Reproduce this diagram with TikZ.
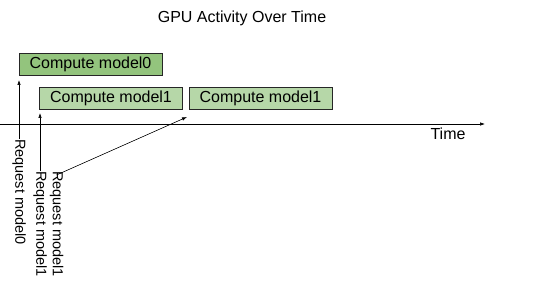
\documentclass[tikz,border=0pt]{standalone}
\usepackage{fontspec}
\setmainfont{Liberation Sans}
\usetikzlibrary{arrows.meta}
\definecolor{darkbox}{HTML}{93C47D}
\definecolor{lightbox}{HTML}{B6D7A8}
\tikzset{compute/.style={draw=black!85, line width=0.6pt, inner sep=0pt, minimum height=22pt, minimum width=143pt, font=\fontsize{16}{18}\selectfont}}
\tikzset{request/.style={rotate=-90, anchor=west, inner sep=0pt, font=\fontsize{14.5}{17}\selectfont}}
\tikzset{req/.style={-{Latex[length=5pt,width=3.5pt]}, line width=0.6pt}}
\begin{document}
\begin{tikzpicture}[x=1pt,y=-1pt]
\useasboundingbox (0,0) rectangle (553,283);

\node[font=\fontsize{16}{18}\selectfont] (title) at (242,18) {GPU Activity Over Time};

\node[compute, fill=darkbox] (c0) at (90.5,64) {Compute model0};
\node[compute, fill=lightbox] (c1) at (111,98) {Compute model1};
\node[compute, fill=lightbox] (c2) at (260.5,98) {Compute model1};

% time axis
\coordinate (t0) at (0,124);
\coordinate (t1) at (485,124);
\draw[-{Latex[length=5pt,width=3.5pt]}, line width=0.6pt] (t0) -- (t1);
\node[font=\fontsize{16}{18}\selectfont] (time) at (448,134) {Time};

% requests
\node[request] (r0) at (19,139) {Request model0};
\node[request] (r1) at (40,171) {Request model1};
\node[request] (r2) at (56.5,171) {Request model1};
\coordinate (a0) at (19,80);
\coordinate (a1) at (40,113);
\coordinate (a2) at (187,117);
\draw[req] (r0.west) -- (a0);
\draw[req] (r1.west) -- (a1);
\draw[req] ([yshift=-4pt]r2.west) -- (a2);
\end{tikzpicture}
\end{document}
